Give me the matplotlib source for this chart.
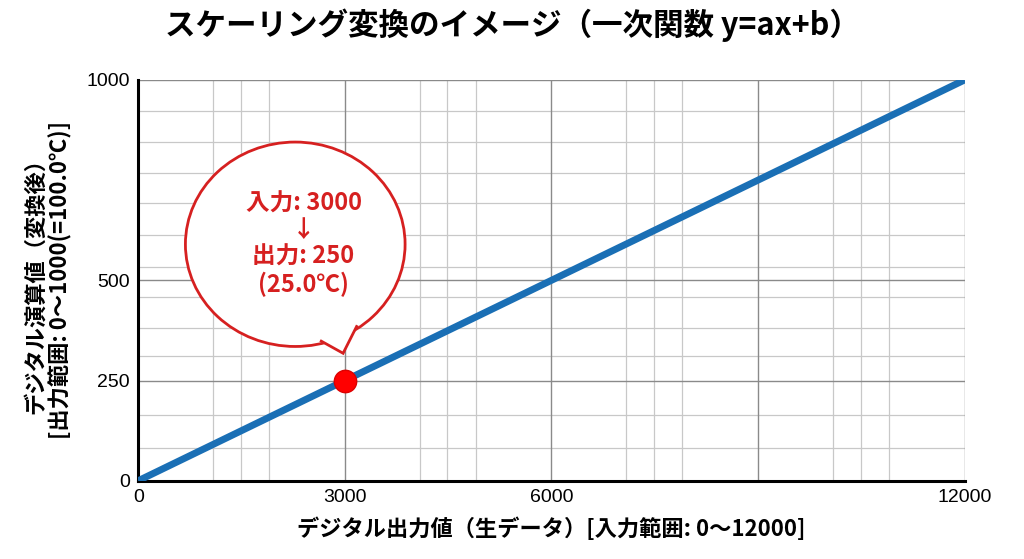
import matplotlib
matplotlib.use("Agg")
import matplotlib.pyplot as plt
from matplotlib.patches import Ellipse, Polygon
import numpy as np

plt.rcParams['font.family'] = ['Noto Sans CJK JP', 'DejaVu Sans']

x_vals = [0, 12000]
y_vals = [0, 1000]
point_x, point_y = 3000, 250
x_ticks = [0, 3000, 6000, 12000]
y_ticks = [0, 250, 500, 1000]
x_major_grid = [3000, 6000, 9000]
x_minor_grid = [b + o for b in [0, 3000, 6000, 9000] for o in [1090, 1490, 1900]]
y_major_grid = [250, 500]
y_minor_grid = [82, 165, 310, 382, 458, 534, 613, 693, 769, 846, 923]

fig = plt.figure(figsize=(10.24, 5.59), dpi=100)
ax = fig.add_axes([0.135, 0.14, 0.807, 0.717])
ax.set_xlim(0, 12000)
ax.set_ylim(0, 1000)
for v in x_minor_grid:
    ax.axvline(v, color='#c8c8c8', lw=0.9, zorder=0)
for v in y_minor_grid:
    ax.axhline(v, color='#c8c8c8', lw=0.9, zorder=0)
for v in x_major_grid:
    ax.axvline(v, color='#8a8a8a', lw=1.0, zorder=0)
for v in y_major_grid:
    ax.axhline(v, color='#8a8a8a', lw=1.0, zorder=0)
ax.axhline(1000, color='#8a8a8a', lw=1.0, zorder=0)
ax.axvline(12000, color='#8a8a8a', lw=1.0, zorder=0)

ax.plot(x_vals, y_vals, color='#1a6fb5', lw=5, solid_capstyle='butt', zorder=3)
ax.scatter([point_x], [point_y], s=260, color='#ff0000', edgecolor='#dd0000', zorder=5)

for s in ['top', 'right']:
    ax.spines[s].set_visible(False)
for s in ['left', 'bottom']:
    ax.spines[s].set_linewidth(2.2)
ax.set_xticks(x_ticks)
ax.set_yticks(y_ticks)
ax.set_xticklabels([str(t) for t in x_ticks], fontsize=14, family='Liberation Sans')
ax.set_yticklabels([str(t) for t in y_ticks], fontsize=14, family='Liberation Sans')
ax.tick_params(length=0, pad=6)

# callout
ell = Ellipse((2280, 590), 3190, 510, facecolor='white', edgecolor='#d62020', lw=2, zorder=6)
ax.add_patch(ell)
tail = Polygon([(2640, 350), (2975, 318), (3180, 388)], closed=False, facecolor='white',
               edgecolor='#d62020', lw=2, zorder=7)
ax.add_patch(tail)
ax.text(2400, 590, '入力: 3000\n↓\n出力: 250\n(25.0℃)', ha='center', va='center',
        color='#d62020', fontsize=17, fontweight='bold', linespacing=1.15, zorder=8)

fig.text(0.5, 0.955, 'スケーリング変換のイメージ（一次関数 y=ax+b）', ha='center', va='center',
         fontsize=22, fontweight='bold')
ax.set_xlabel('デジタル出力値（生データ）[入力範囲: 0〜12000]', fontsize=16, fontweight='bold', labelpad=8)
ax.set_ylabel('デジタル演算値（変換後）\n[出力範囲: 0〜1000(=100.0℃)]', fontsize=16, fontweight='bold',
              labelpad=10, linespacing=1.1)

fig.savefig('out.png', dpi=100)
